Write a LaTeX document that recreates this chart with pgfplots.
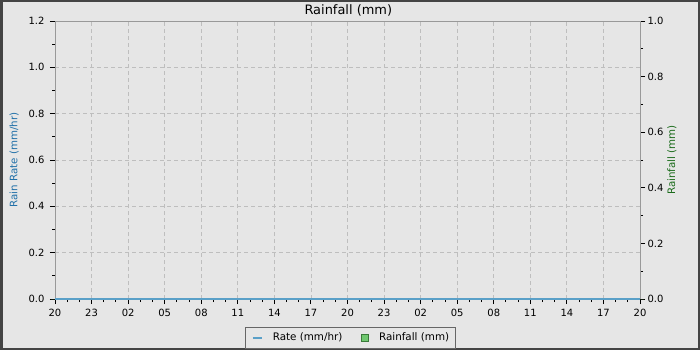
\documentclass[border=0pt]{standalone}
\usepackage{pgfplots}
\pgfplotsset{compat=1.18}
\usepackage{fontspec}
\setmainfont{DejaVu Sans}
\definecolor{bg}{HTML}{E6E6E6}
\definecolor{frame}{HTML}{444444}
\definecolor{axgrey}{HTML}{999999}
\definecolor{gridc}{HTML}{BEBEBE}
\definecolor{rateblue}{HTML}{5AA0C8}
\definecolor{ratelab}{HTML}{1F6FA8}
\definecolor{rainlab}{HTML}{1A6B1A}
\definecolor{rainfill}{HTML}{70C870}
\definecolor{raindraw}{HTML}{3A7A3A}
\definecolor{legframe}{HTML}{666666}
\begin{document}
\begin{tikzpicture}[x=1bp,y=1bp]
\fill[bg] (0,0) rectangle (700,350);
\draw[frame, line width=2.5bp] (1.25,1.25) rectangle (698.75,348.75);
\node[font=\fontsize{13}{15}\selectfont, anchor=center] at (348.3,339.3) {Rainfall (mm)};
\begin{axis}[
  at={(55bp,51bp)}, anchor=south west,
  scale only axis, width=585bp, height=278bp,
  xmin=0, xmax=48, ymin=0, ymax=1.2,
  axis line style={axgrey, line width=0.9bp},
  xtick={0,3,...,48},
  xticklabels={20,23,02,05,08,11,14,17,20,23,02,05,08,11,14,17,20},
  minor xtick={0,1,...,48},
  ytick={0,0.2,...,1.2},
  minor ytick={0,0.1,...,1.2},
  yticklabel style={/pgf/number format/fixed,/pgf/number format/fixed zerofill,/pgf/number format/precision=1, xshift=-2bp},
  /pgf/number format/assume math mode=true,
  tick style={black, line width=0.9bp},
  major tick length=5bp, minor tick length=3bp,
  tick align=outside,
  axis y line*=left, axis x line*=bottom,
  every outer x axis line/.append style={-}, every outer y axis line/.append style={-},
  ticklabel style={font=\fontsize{10}{12}\selectfont, text=black},
  xticklabel style={yshift=-1.5bp},
  grid=major,
  major grid style={gridc, dash pattern=on 4bp off 3bp, line width=0.8bp},
  ylabel={Rain Rate (mm/hr)},
  ylabel style={font=\fontsize{10.3}{12}\selectfont, text=ratelab, at={(axis description cs:-0.0700,0.5)}, anchor=center},
  legend style={at={(axis description cs:0.5051,-0.1400)}, anchor=center, draw=legframe, line width=0.8bp, fill=bg, font=\fontsize{10.4}{12}\selectfont, legend columns=2,
    nodes={inner sep=0pt, text height=7.6bp, text depth=2bp},
    inner xsep=6bp, inner ysep=5.5bp,
    /tikz/every odd column/.append style={column sep=10bp},
    /tikz/every even column/.append style={column sep=19bp}},
  legend cell align=left,
  clip=false,
]
\draw[axgrey, line width=0.9bp] (axis cs:0,1.2) -- (axis cs:48,1.2) -- (axis cs:48,0);
\addlegendimage{legend image code/.code={\draw[rateblue, line width=2bp] (0bp,0bp) -- (9bp,0bp);}}
\addlegendentry{Rate (mm/hr)}
\addlegendimage{legend image code/.code={\draw[raindraw, fill=rainfill, line width=0.6bp] (0bp,-3.5bp) rectangle (7bp,3.5bp);}}
\addlegendentry{Rainfall (mm)}
\end{axis}
\begin{axis}[
  at={(55bp,51bp)}, anchor=south west,
  scale only axis, width=585bp, height=278bp,
  xmin=0, xmax=48, ymin=0, ymax=1.0,
  axis y line*=right, axis x line=none,
  axis line style={axgrey, line width=0.9bp},
  every outer y axis line/.append style={-},
  ytick={0,0.2,...,1.0},
  minor ytick={0,0.1,...,1.0},
  yticklabel style={/pgf/number format/fixed,/pgf/number format/fixed zerofill,/pgf/number format/precision=1, xshift=-1bp},
  /pgf/number format/assume math mode=true,
  tick style={black, line width=0.9bp},
  major tick length=5bp, minor tick length=3bp,
  tick align=outside,
  ticklabel style={font=\fontsize{10}{12}\selectfont, text=black},
  ylabel={Rainfall (mm)},
  ylabel style={font=\fontsize{10.3}{12}\selectfont, text=rainlab, at={(axis description cs:1.0547,0.5)}, anchor=center},
  clip=false,
]
\addplot[ybar, bar width=8bp, fill=rainfill, draw=none, forget plot] coordinates {(0,0) (48,0)};
\addplot[rateblue, line width=2.5bp, forget plot] coordinates {(0,0) (6,0) (12,0) (18,0) (24,0) (30,0) (36,0) (42,0) (48,0)};
\end{axis}
\end{tikzpicture}
\end{document}
